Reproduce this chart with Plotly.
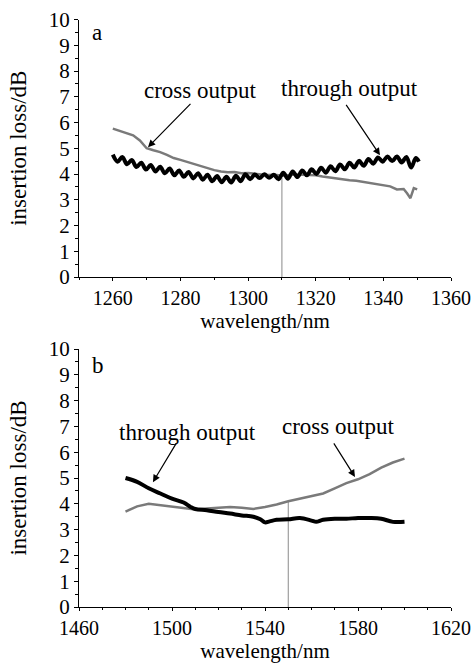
import plotly.graph_objects as go

# ---------------- data: panel a (O-band) ----------------
a_through_wl = [1260.0, 1261.4, 1262.8, 1264.2, 1265.6, 1267.0, 1268.4, 1269.8, 1271.2, 1272.6,
                1274.0, 1275.4, 1276.8, 1278.2, 1279.6, 1281.0, 1282.4, 1283.8, 1285.2, 1286.6,
                1288.0, 1289.4, 1290.8, 1292.2, 1293.6, 1295.0, 1296.4, 1297.8, 1299.2, 1300.6,
                1302.0, 1303.4, 1304.8, 1306.2, 1307.6, 1309.0, 1310.4, 1311.8, 1313.2, 1314.6,
                1316.0, 1317.4, 1318.8, 1320.2, 1321.6, 1323.0, 1324.4, 1325.8, 1327.2, 1328.6,
                1330.0, 1331.4, 1332.8, 1334.2, 1335.6, 1337.0, 1338.4, 1339.8, 1341.2, 1342.6,
                1344.0, 1345.4, 1346.8, 1348.2, 1349.6, 1350.5]
a_through_il = [4.75, 4.48, 4.66, 4.38, 4.54, 4.27, 4.44, 4.17, 4.35, 4.10,
                4.28, 4.03, 4.21, 3.95, 4.14, 3.89, 4.08, 3.83, 4.03, 3.78,
                3.97, 3.72, 3.92, 3.68, 3.89, 3.67, 3.93, 3.72, 3.99, 3.80,
                3.98, 3.84, 3.99, 3.85, 3.97, 3.80, 4.05, 3.82, 4.10, 3.88,
                4.14, 3.95, 4.18, 4.00, 4.24, 4.05, 4.30, 4.11, 4.37, 4.18,
                4.44, 4.25, 4.51, 4.32, 4.58, 4.40, 4.64, 4.48, 4.68, 4.50,
                4.68, 4.45, 4.66, 4.25, 4.62, 4.48]

a_cross_wl = [1260, 1262, 1264, 1266, 1268, 1270, 1272, 1274, 1276, 1278,
              1280, 1282, 1284, 1286, 1288, 1290, 1292, 1294, 1296, 1298,
              1300, 1302, 1304, 1306, 1308, 1310, 1312, 1314, 1316, 1318,
              1320, 1322, 1324, 1326, 1328, 1330, 1332, 1334, 1336, 1338,
              1340, 1342, 1344, 1346, 1347, 1348, 1349, 1350]
a_cross_il = [5.76, 5.68, 5.58, 5.50, 5.30, 5.00, 4.92, 4.85, 4.74, 4.62,
              4.55, 4.47, 4.40, 4.30, 4.22, 4.15, 4.10, 4.07, 4.08, 4.03,
              4.04, 4.00, 3.98, 3.96, 3.97, 3.93, 3.96, 3.98, 3.97, 3.96,
              3.95, 3.90, 3.86, 3.82, 3.80, 3.76, 3.74, 3.70, 3.66, 3.62,
              3.57, 3.52, 3.40, 3.42, 3.25, 3.06, 3.45, 3.40]

a_marker_wl = [1310, 1310]
a_marker_il = [0, 3.85]

# ---------------- data: panel b (C-band) ----------------
b_through_wl = [1480, 1485, 1490, 1495, 1500, 1505, 1508, 1510, 1515, 1520,
                1525, 1530, 1535, 1538, 1540, 1542, 1545, 1550, 1555, 1560,
                1562, 1565, 1570, 1575, 1580, 1585, 1590, 1595, 1600]
b_through_il = [5.00, 4.85, 4.60, 4.40, 4.20, 4.05, 3.88, 3.80, 3.75, 3.68,
                3.62, 3.55, 3.50, 3.40, 3.28, 3.32, 3.38, 3.40, 3.45, 3.35,
                3.30, 3.38, 3.42, 3.42, 3.45, 3.45, 3.42, 3.30, 3.30]

b_cross_wl = [1480, 1485, 1490, 1495, 1500, 1505, 1510, 1515, 1520, 1525,
              1530, 1535, 1540, 1545, 1550, 1555, 1560, 1565, 1570, 1575,
              1580, 1585, 1590, 1595, 1600]
b_cross_il = [3.70, 3.90, 4.00, 3.95, 3.90, 3.85, 3.78, 3.82, 3.85, 3.88,
              3.85, 3.80, 3.88, 3.97, 4.10, 4.20, 4.30, 4.40, 4.60, 4.80,
              4.95, 5.15, 5.40, 5.60, 5.75]

b_marker_wl = [1550, 1550]
b_marker_il = [0, 4.08]

y_ticks = [0, 1, 2, 3, 4, 5, 6, 7, 8, 9, 10]
a_x_ticks = [1260, 1280, 1300, 1320, 1340, 1360]
b_x_ticks = [1460, 1500, 1540, 1580, 1620]

# ---------------- figure ----------------
FONT = "Times New Roman"
fig = go.Figure()

def add_panel(xa, ya, through_x, through_y, cross_x, cross_y, mk_x, mk_y):
    fig.add_trace(go.Scatter(x=mk_x, y=mk_y, mode="lines", xaxis=xa, yaxis=ya,
                             line=dict(color="#8a8a8a", width=1), showlegend=False,
                             hoverinfo="skip"))
    fig.add_trace(go.Scatter(x=cross_x, y=cross_y, mode="lines", xaxis=xa, yaxis=ya,
                             line=dict(color="#7a7a7a", width=2.5), showlegend=False,
                             name="cross output"))
    fig.add_trace(go.Scatter(x=through_x, y=through_y, mode="lines", xaxis=xa, yaxis=ya,
                             line=dict(color="#000000", width=4, shape="spline"),
                             showlegend=False, name="through output"))

add_panel("x", "y", a_through_wl, a_through_il, a_cross_wl, a_cross_il, a_marker_wl, a_marker_il)
add_panel("x2", "y2", b_through_wl, b_through_il, b_cross_wl, b_cross_il, b_marker_wl, b_marker_il)

W, H = 473, 663
xdom = [79 / W, 451 / W]
a_ydom = [(H - 277) / H, (H - 19.5) / H]
b_ydom = [(H - 607) / H, (H - 349) / H]

axis_common = dict(showline=True, linecolor="black", linewidth=1, showgrid=False,
                   zeroline=False, ticks="outside", ticklen=4, tickcolor="black",
                   tickfont=dict(family=FONT, size=21, color="black"), mirror=False,
                   automargin=False)

x_axis_extra = dict(ticklen=3, tickfont=dict(family=FONT, size=20, color="black"))
xt = dict(text="wavelength/nm", font=dict(family=FONT, size=21), standoff=3)
yt = dict(text="insertion loss/dB", font=dict(family=FONT, size=23), standoff=15)

xcommon = {**axis_common, **x_axis_extra}

fig.update_layout(
    width=W, height=H, margin=dict(l=0, r=0, t=0, b=0),
    paper_bgcolor="white", plot_bgcolor="white",
    font=dict(family=FONT, color="black"),
    xaxis=dict(**xcommon, domain=xdom, anchor="y", range=[1250, 1360],
               tickvals=a_x_ticks, minor=dict(dtick=10, tick0=1250, ticklen=2, ticks="outside", tickcolor="black"),
               title=xt),
    yaxis=dict(**axis_common, domain=a_ydom, anchor="x", range=[0, 10], tickvals=y_ticks,
               minor=dict(dtick=0.5, ticklen=3, ticks="outside", tickcolor="black"),
               title=yt),
    xaxis2=dict(**xcommon, domain=xdom, anchor="y2", range=[1460, 1620],
                tickvals=b_x_ticks, minor=dict(dtick=10, tick0=1460, ticklen=2, ticks="outside", tickcolor="black"),
                title=xt),
    yaxis2=dict(**axis_common, domain=b_ydom, anchor="x2", range=[0, 10], tickvals=y_ticks,
                minor=dict(dtick=0.5, ticklen=3, ticks="outside", tickcolor="black"),
                title=yt),
)

ann = []
def label(xr, yr, x, y, text):
    ann.append(dict(xref=xr, yref=yr, x=x, y=y, text=text, showarrow=False,
                    font=dict(family=FONT, size=23, color="black")))

def arrow(xr, yr, x0, y0, x1, y1):
    ann.append(dict(xref=xr, yref=yr, axref=xr, ayref=yr, x=x1, y=y1, ax=x0, ay=y0,
                    text="", showarrow=True, arrowhead=2, arrowsize=1.2, arrowwidth=1.2,
                    arrowcolor="black"))

label("x", "y", 1285.8, 7.25, "cross output")
label("x", "y", 1330.1, 7.33, "through output")
label("x", "y", 1255.3, 9.5, "a")
arrow("x", "y", 1283.4, 6.78, 1270.4, 5.04)
arrow("x", "y", 1328.7, 6.74, 1339.0, 4.73)

label("x2", "y2", 1506.5, 6.78, "through output")
label("x2", "y2", 1571.4, 6.98, "cross output")
label("x2", "y2", 1468.0, 9.38, "b")
arrow("x2", "y2", 1502.2, 6.4, 1491.8, 4.84)
arrow("x2", "y2", 1569.2, 6.4, 1578.7, 5.04)

fig.update_layout(annotations=ann)
fig.write_html("out.html", config={"displayModeBar": False},
               post_script="document.body.style.margin='0';document.body.style.padding='0';")
